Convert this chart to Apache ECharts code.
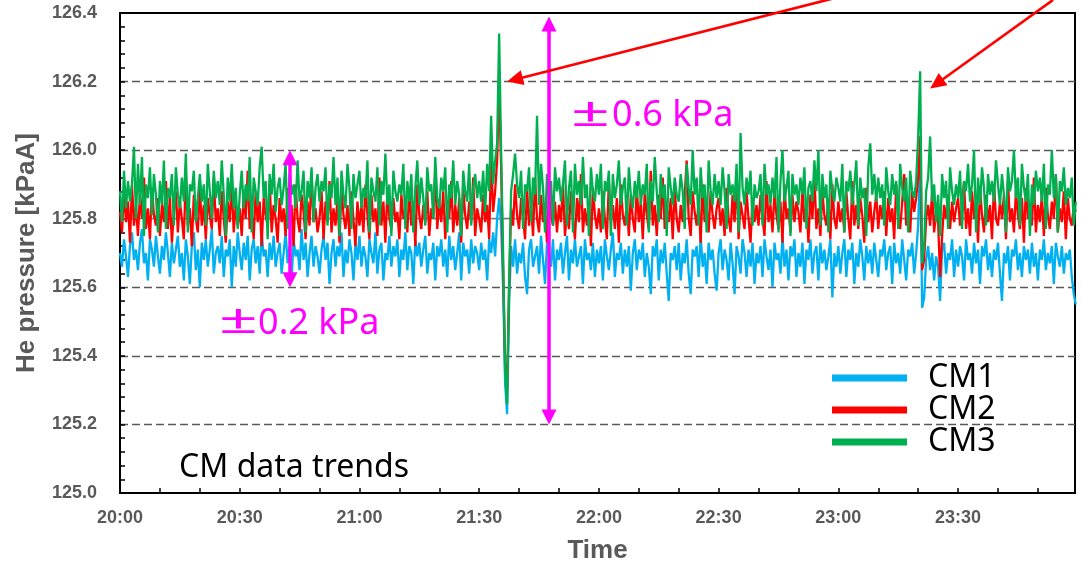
<!DOCTYPE html>
<html><head><meta charset="utf-8">
<script src="https://cdn.jsdelivr.net/npm/echarts@6/dist/echarts.min.js"></script>
<style>html,body{margin:0;padding:0;background:#fff}#c{width:1081px;height:563px}</style>
</head><body><div id="c"></div>
<script>
// Samples every 0.5 minute starting at 20:00 (x in minutes after 20:00)
const SAMPLE_MIN = 0.5;
const seriesNames = ['CM1', 'CM2', 'CM3'];
const cm1 = [
125.70,125.66,125.74,125.69,125.63,125.72,125.76,125.68,125.71,125.65,125.73,125.77,125.67,125.70,125.62,125.74,125.71,125.66,125.75,125.69,
125.64,125.72,125.68,125.76,125.70,125.63,125.73,125.67,125.71,125.75,125.66,125.70,125.62,125.74,125.69,125.61,125.72,125.76,125.65,125.71,
125.60,125.73,125.68,125.74,125.66,125.71,125.77,125.64,125.70,125.72,125.67,125.75,125.63,125.71,125.69,125.74,125.60,125.72,125.66,125.76,
125.70,125.65,125.73,125.68,125.75,125.62,125.71,125.74,125.67,125.72,125.64,125.76,125.69,125.71,125.63,125.73,125.68,125.75,125.66,125.70,
125.73,125.64,125.70,125.76,125.67,125.72,125.62,125.74,125.69,125.71,125.65,125.77,125.68,125.73,125.63,125.70,125.75,125.66,125.72,125.69,
125.64,125.71,125.75,125.68,125.73,125.61,125.70,125.74,125.66,125.72,125.69,125.76,125.63,125.71,125.67,125.74,125.70,125.62,125.73,125.68,
125.75,125.66,125.72,125.69,125.63,125.74,125.70,125.67,125.76,125.64,125.71,125.73,125.62,125.70,125.68,125.75,125.66,125.72,125.69,125.74,
125.63,125.71,125.68,125.76,125.65,125.72,125.70,125.61,125.74,125.69,125.73,125.66,125.71,125.75,125.64,125.70,125.68,125.73,125.62,125.72,
125.69,125.74,125.66,125.71,125.63,125.75,125.68,125.72,125.65,125.70,125.76,125.62,125.73,125.69,125.71,125.64,125.74,125.67,125.72,125.70,
125.65,125.73,125.68,125.71,125.62,125.74,125.70,125.76,125.69,125.80,125.86,125.78,125.60,125.32,125.23,125.55,125.72,125.66,125.74,125.64,
125.70,125.67,125.73,125.63,125.58,125.71,125.74,125.66,125.69,125.72,125.64,125.75,125.68,125.61,125.73,125.70,125.66,125.74,125.62,125.71,
125.68,125.73,125.64,125.70,125.75,125.62,125.71,125.67,125.74,125.66,125.69,125.72,125.61,125.74,125.68,125.70,125.65,125.73,125.63,125.71,
125.67,125.72,125.62,125.74,125.69,125.65,125.71,125.76,125.63,125.70,125.68,125.73,125.64,125.71,125.66,125.72,125.59,125.70,125.74,125.65,
125.71,125.68,125.73,125.63,125.70,125.66,125.58,125.72,125.69,125.74,125.62,125.71,125.67,125.73,125.64,125.56,125.70,125.68,125.72,125.65,
125.73,125.62,125.70,125.67,125.74,125.64,125.58,125.71,125.69,125.72,125.63,125.75,125.66,125.70,125.61,125.73,125.68,125.71,125.64,125.59,
125.70,125.74,125.65,125.71,125.68,125.62,125.73,125.67,125.58,125.72,125.69,125.64,125.74,125.70,125.63,125.71,125.66,125.73,125.61,125.70,
125.67,125.72,125.63,125.74,125.69,125.65,125.71,125.60,125.73,125.68,125.70,125.64,125.75,125.66,125.71,125.62,125.72,125.69,125.74,125.63,
125.70,125.66,125.73,125.61,125.71,125.68,125.74,125.64,125.70,125.72,125.62,125.73,125.67,125.71,125.65,125.69,125.74,125.57,125.70,125.66,
125.72,125.64,125.70,125.74,125.63,125.71,125.68,125.73,125.61,125.70,125.66,125.74,125.69,125.62,125.72,125.67,125.71,125.64,125.73,125.68,
125.63,125.71,125.69,125.74,125.65,125.70,125.72,125.61,125.73,125.67,125.70,125.64,125.74,125.68,125.62,125.71,125.69,125.73,125.64,125.70,
125.78,125.98,125.54,125.57,125.68,125.72,125.65,125.70,125.62,125.69,125.66,125.56,125.71,125.73,125.64,125.70,125.68,125.74,125.63,125.71,
125.66,125.72,125.69,125.62,125.74,125.68,125.70,125.64,125.73,125.67,125.71,125.61,125.72,125.69,125.74,125.65,125.70,125.63,125.71,125.68,
125.73,125.64,125.56,125.70,125.67,125.72,125.62,125.71,125.69,125.74,125.65,125.70,125.63,125.72,125.68,125.71,125.64,125.73,125.66,125.70,
125.62,125.71,125.68,125.74,125.65,125.70,125.67,125.72,125.61,125.73,125.69,125.66,125.72,125.64,125.70,125.68,125.71,125.63,125.58,125.55
];
const cm2 = [
125.82,125.76,125.88,125.79,125.85,125.73,125.90,125.78,125.84,125.75,125.87,125.80,125.92,125.77,125.83,125.74,125.89,125.81,125.78,125.86,
125.75,125.84,125.79,125.91,125.77,125.86,125.73,125.82,125.88,125.76,125.85,125.80,125.74,125.93,125.78,125.83,125.72,125.87,125.80,125.76,
125.89,125.78,125.84,125.74,125.86,125.81,125.77,125.92,125.79,125.83,125.75,125.88,125.80,125.73,125.85,125.79,125.90,125.76,125.84,125.78,
125.83,125.75,125.87,125.80,125.94,125.77,125.82,125.74,125.88,125.79,125.85,125.72,125.86,125.81,125.78,125.91,125.76,125.84,125.80,125.73,
125.86,125.79,125.83,125.75,125.89,125.77,125.84,125.72,125.90,125.80,125.76,125.87,125.82,125.74,125.85,125.78,125.93,125.79,125.83,125.76,
125.80,125.88,125.74,125.85,125.79,125.91,125.76,125.83,125.78,125.86,125.73,125.89,125.81,125.77,125.84,125.75,125.88,125.80,125.72,125.85,
125.78,125.84,125.76,125.90,125.81,125.74,125.87,125.79,125.83,125.75,125.92,125.78,125.85,125.73,125.88,125.80,125.77,125.86,125.79,125.82,
125.74,125.87,125.80,125.83,125.76,125.89,125.78,125.85,125.72,125.90,125.81,125.77,125.84,125.79,125.88,125.75,125.83,125.80,125.94,125.77,
125.85,125.79,125.88,125.74,125.83,125.80,125.91,125.76,125.84,125.78,125.86,125.73,125.89,125.81,125.77,125.85,125.79,125.92,125.75,125.83,
125.80,125.76,125.87,125.79,125.84,125.74,125.98,125.82,125.88,125.97,126.19,125.95,125.65,125.38,125.30,125.60,125.83,125.78,125.90,125.81,
125.77,125.86,125.80,125.74,125.89,125.78,125.84,125.75,125.92,125.80,125.76,125.87,125.79,125.83,125.73,125.88,125.81,125.78,125.85,125.76,
125.84,125.79,125.90,125.75,125.82,125.77,125.88,125.80,125.74,125.86,125.79,125.93,125.76,125.83,125.78,125.85,125.72,125.89,125.81,125.77,
125.83,125.76,125.88,125.80,125.74,125.91,125.79,125.84,125.77,125.86,125.73,125.90,125.81,125.78,125.85,125.75,125.87,125.80,125.76,125.89,
125.79,125.85,125.74,125.88,125.81,125.77,125.94,125.78,125.84,125.75,125.87,125.80,125.92,125.77,125.83,125.79,125.86,125.74,125.89,125.80,
125.76,125.84,125.79,125.87,125.97,125.80,125.75,125.88,125.82,125.78,125.85,125.73,125.90,125.79,125.84,125.76,125.88,125.81,125.77,125.83,
125.86,125.78,125.83,125.75,125.89,125.80,125.76,125.87,125.79,125.92,125.74,125.85,125.81,125.77,125.88,125.80,125.73,125.86,125.79,125.84,
125.78,125.87,125.80,125.75,125.91,125.79,125.84,125.76,125.88,125.81,125.77,125.85,125.73,125.90,125.80,125.83,125.76,125.87,125.79,125.85,
125.82,125.76,125.89,125.79,125.84,125.73,125.87,125.80,125.93,125.77,125.83,125.75,125.88,125.81,125.78,125.86,125.74,125.90,125.80,125.77,
125.85,125.79,125.83,125.76,125.88,125.80,125.74,125.91,125.78,125.84,125.77,125.86,125.81,125.73,125.89,125.79,125.85,125.76,125.82,125.87,
125.77,125.84,125.80,125.88,125.75,125.86,125.79,125.83,125.74,125.90,125.81,125.77,125.85,125.93,125.78,125.84,125.76,125.88,125.82,125.86,
125.92,126.04,125.65,125.68,125.80,125.84,125.78,125.88,125.76,125.82,125.79,125.63,125.75,125.84,125.80,125.87,125.77,125.85,125.79,125.83,
125.86,125.78,125.84,125.91,125.77,125.83,125.75,125.88,125.80,125.85,125.73,125.89,125.81,125.76,125.87,125.79,125.84,125.74,125.90,125.80,
125.78,125.85,125.80,125.87,125.74,125.91,125.79,125.83,125.76,125.88,125.81,125.77,125.86,125.73,125.89,125.80,125.84,125.78,125.92,125.76,
125.84,125.79,125.87,125.75,125.89,125.81,125.77,125.85,125.80,125.93,125.76,125.83,125.79,125.88,125.74,125.86,125.80,125.78,125.84,125.82
];
const cm3 = [
125.88,125.79,125.94,125.83,125.91,125.85,125.90,126.01,125.80,125.96,125.84,125.98,125.75,125.90,125.86,125.95,125.81,125.93,125.87,125.76,
125.91,125.84,125.97,125.77,125.89,125.86,125.93,125.78,125.95,125.87,125.83,125.92,125.85,125.99,125.76,125.90,125.88,125.94,125.79,125.86,
125.93,125.85,125.90,125.78,125.96,125.88,125.80,125.94,125.86,125.91,125.84,125.97,125.87,125.75,125.92,125.85,125.96,125.83,125.89,125.77,
125.87,125.94,125.83,125.90,125.85,125.98,125.76,125.92,125.88,125.84,125.95,126.01,125.86,125.91,125.74,125.93,125.87,125.96,125.82,125.89,
125.92,125.84,125.89,125.96,125.77,125.93,125.87,125.90,125.83,125.97,125.85,125.88,125.94,125.76,125.91,125.86,125.95,125.79,125.89,125.93,
125.85,125.91,125.88,125.95,125.78,125.90,125.86,125.98,125.84,125.92,125.75,125.94,125.87,125.83,125.96,125.89,125.77,125.93,125.86,125.90,
125.94,125.83,125.89,125.86,125.97,125.76,125.92,125.88,125.85,125.95,125.78,125.91,125.87,125.99,125.84,125.90,125.75,125.94,125.88,125.85,
125.90,125.87,125.96,125.77,125.91,125.85,125.93,125.76,125.89,125.97,125.84,125.92,125.86,125.78,125.95,125.88,125.90,125.80,125.98,125.86,
125.83,125.92,125.88,125.95,125.76,125.90,125.86,125.97,125.84,125.91,125.87,125.75,125.94,125.88,125.85,125.96,125.78,125.89,125.93,125.86,
125.91,125.85,125.94,125.82,125.96,125.88,126.10,125.90,125.97,126.02,126.34,126.00,125.70,125.35,125.26,125.62,125.88,125.93,125.99,125.90,
125.86,125.94,125.77,125.90,125.88,125.95,125.79,125.92,125.87,126.10,125.84,125.96,125.89,125.76,125.93,125.86,125.91,125.78,125.95,125.88,
125.92,125.85,125.90,125.97,125.78,125.89,125.94,125.76,125.96,125.87,125.91,125.84,125.98,125.86,125.90,125.75,125.95,125.88,125.85,125.93,
125.87,125.96,125.77,125.91,125.88,125.94,125.75,125.93,125.86,125.90,125.97,125.84,125.89,125.92,125.78,125.95,125.87,125.83,125.91,125.86,
125.94,125.84,125.90,125.87,125.96,125.76,125.91,125.85,125.98,125.88,125.79,125.93,125.86,125.90,125.75,125.95,125.89,125.84,125.92,125.87,
125.85,125.93,125.88,125.77,125.96,125.89,125.84,126.00,125.87,125.92,125.78,125.95,125.86,125.90,125.76,125.97,125.88,125.84,125.93,125.86,
125.91,125.84,125.95,125.88,125.77,125.93,125.87,125.90,125.85,125.96,125.76,126.05,125.89,125.84,125.92,125.87,125.94,125.78,125.90,125.86,
125.88,125.93,125.78,125.96,125.87,125.90,125.84,125.92,125.86,125.98,125.76,125.91,126.00,125.85,125.89,125.94,125.75,125.93,125.87,125.90,
125.84,125.92,125.87,125.95,125.77,125.89,125.91,125.85,125.97,125.88,126.00,125.78,125.93,125.86,125.90,125.76,125.94,125.88,125.85,125.92,
125.89,125.85,125.96,125.76,125.91,125.88,125.94,125.84,125.90,125.97,125.78,125.92,125.86,125.89,125.75,125.95,126.02,125.87,125.93,125.85,
125.92,125.86,125.90,125.78,125.95,125.88,125.84,125.93,125.87,125.91,125.77,125.96,125.89,125.85,125.92,125.76,125.94,125.88,125.86,125.91,
126.04,126.23,125.67,125.72,125.88,125.92,126.04,125.85,125.90,125.79,125.87,125.75,125.93,125.86,125.91,125.77,125.95,125.88,125.84,125.90,
125.86,125.94,125.77,125.91,125.88,125.96,125.85,125.90,126.00,125.76,125.92,125.84,125.95,125.89,125.78,125.93,125.87,125.91,125.85,125.97,
125.90,125.84,125.93,125.87,125.76,125.95,125.88,125.91,126.00,125.86,125.92,125.78,125.96,125.89,125.85,125.93,125.75,125.90,125.84,125.94,
125.88,125.92,125.85,125.96,125.77,125.90,125.87,126.00,125.86,125.93,125.76,125.91,125.88,125.95,125.84,125.89,125.86,125.92,125.78,125.85
];
// Solid reference line level (kPa)
const refLevel = 125.8;
// Axis extents
const xMinMinutes = 0, xMaxMinutes = 239.3;
const yMin = 125.0, yMax = 126.4;

const colors = ['#00B0F0', '#FF0000', '#00B050'];
const GRAY = '#595959';
const toPairs = arr => arr.map((v, i) => [i * SAMPLE_MIN, v]);

function timeLabel(v) {
  if (Math.abs(v % 30) > 1e-6) return '';
  const h = 20 + Math.floor(v / 60);
  const m = Math.round(v % 60);
  return h + ':' + String(m).padStart(2, '0');
}

const chart = echarts.init(document.getElementById('c'), null, { renderer: 'canvas' });
const option = {
  animation: false,
  backgroundColor: '#fff',
  grid: { left: 120, top: 13, right: 6, bottom: 70, show: true, borderColor: '#000', borderWidth: 2, containLabel: false, outerBoundsMode: 'none' },
  legend: {
    data: seriesNames, orient: 'vertical', left: 832, top: 362, padding: 0,
    itemWidth: 75, itemHeight: 7, itemGap: 0, icon: 'rect', selectedMode: false,
    textStyle: { fontFamily: 'Noto Sans', fontSize: 32, color: '#000', lineHeight: 32, padding: [0, 0, 0, 16] }
  },
  xAxis: {
    type: 'value', min: xMinMinutes, max: xMaxMinutes, interval: 10,
    axisLine: { lineStyle: { color: '#000', width: 2 } },
    axisTick: { inside: true, length: 5, lineStyle: { color: '#000', width: 1.5 } },
    axisLabel: { formatter: timeLabel, color: GRAY, fontSize: 18, fontWeight: 'bold', fontFamily: 'Liberation Sans', margin: 16, showMaxLabel: false },
    splitLine: { show: false },
    name: 'Time', nameLocation: 'middle', nameGap: 45,
    nameTextStyle: { color: GRAY, fontSize: 26, fontWeight: 'bold', fontFamily: 'Liberation Sans' }
  },
  yAxis: {
    type: 'value', min: yMin, max: yMax, interval: 0.2,
    axisLine: { show: true, lineStyle: { color: '#000', width: 2 } },
    axisTick: { show: true, inside: true, length: 5, lineStyle: { color: '#000', width: 1.5 } },
    minorTick: { show: true, splitNumber: 5, length: 5, lineStyle: { color: '#000', width: 1.5 } },
    axisLabel: { formatter: v => v.toFixed(1), color: GRAY, fontSize: 18, fontWeight: 'bold', fontFamily: 'Liberation Sans', margin: 23 },
    splitLine: { show: true, showMinLine: false, showMaxLine: false, lineStyle: { color: GRAY, type: [8, 4], width: 1.3 } },
    name: 'He pressure [kPaA]', nameLocation: 'middle', nameGap: 80,
    nameTextStyle: { color: GRAY, fontSize: 26, fontWeight: 'bold', fontFamily: 'Liberation Sans' }
  },
  series: [
    { name: 'ref', type: 'line', z: 1, silent: true, showSymbol: false, data: [[xMinMinutes, refLevel], [xMaxMinutes, refLevel]],
      lineStyle: { color: '#808080', width: 1.3 } },
    ...[cm1, cm2, cm3].map((arr, k) => ({
      name: seriesNames[k], type: 'line', showSymbol: false, sampling: 'none', z: 2 + k,
      data: toPairs(arr), color: colors[k], lineStyle: { color: colors[k], width: 2.3 }
    }))
  ]
};
chart.setOption(option);

// Annotations anchored in data coordinates [minutes, kPa]
const magentaArrows = [ { t: 42.6, lo: 125.6, hi: 126.0 }, { t: 107.5, lo: 125.2, hi: 126.39 } ];
const redArrows = [ { from: [179.2, 126.444], to: [97, 126.2] }, { from: [233.8, 126.438], to: [203, 126.18] } ];
const notes = [
  { text: '±', at: [113.0, 126.105], color: '#FF00FF', size: 40, sx: 1.7 },
  { text: '0.6 kPa', at: [123.3, 126.101], color: '#FF00FF', size: 36, sx: 1 },
  { text: '±', at: [24.8, 125.499], color: '#FF00FF', size: 40, sx: 1.7 },
  { text: '0.2 kPa', at: [34.6, 125.494], color: '#FF00FF', size: 36, sx: 1 },
  { text: 'CM data trends', at: [14.8, 125.073], color: '#000', size: 32, sx: 1 }
];
const P = c => chart.convertToPixel({ gridIndex: 0 }, c);
function arrow(a, b, color, width, headLen, headWid, both) {
  const els = [];
  const dx = b[0] - a[0], dy = b[1] - a[1], L = Math.hypot(dx, dy);
  const ux = dx / L, uy = dy / L, px = -uy, py = ux;
  const head = (tip, sx, sy) => {
    const bx = tip[0] - sx * headLen, by = tip[1] - sy * headLen;
    return { type: 'polygon', silent: true, z: 100, shape: { points: [tip, [bx + px * headWid / 2, by + py * headWid / 2], [bx - px * headWid / 2, by - py * headWid / 2]] }, style: { fill: color } };
  };
  const s = both ? [a[0] + ux * headLen * 0.9, a[1] + uy * headLen * 0.9] : a;
  const e = [b[0] - ux * headLen * 0.9, b[1] - uy * headLen * 0.9];
  els.push({ type: 'line', silent: true, z: 100, shape: { x1: s[0], y1: s[1], x2: e[0], y2: e[1] }, style: { stroke: color, lineWidth: width } });
  els.push(head(b, ux, uy));
  if (both) els.push(head(a, -ux, -uy));
  return els;
}
const g = [];
magentaArrows.forEach(m => { g.push(...arrow(P([m.t, m.lo]), P([m.t, m.hi]), '#FF00FF', 3.5, 15, 15, true)); });
redArrows.forEach(r => { g.push(...arrow(P(r.from), P(r.to), '#FF0000', 2.7, 16, 15, false)); });
notes.forEach(n => {
  const p = P(n.at);
  g.push({ type: 'text', silent: true, z: 100, x: p[0], y: p[1], scaleX: n.sx, style: {
    text: n.text, fill: n.color, fontFamily: 'Noto Sans', fontSize: n.size, font: n.size + 'px "Noto Sans"',
    textAlign: 'left', align: 'left', textVerticalAlign: 'middle', verticalAlign: 'middle'
  } });
});
chart.setOption({ graphic: g });
</script></body></html>
